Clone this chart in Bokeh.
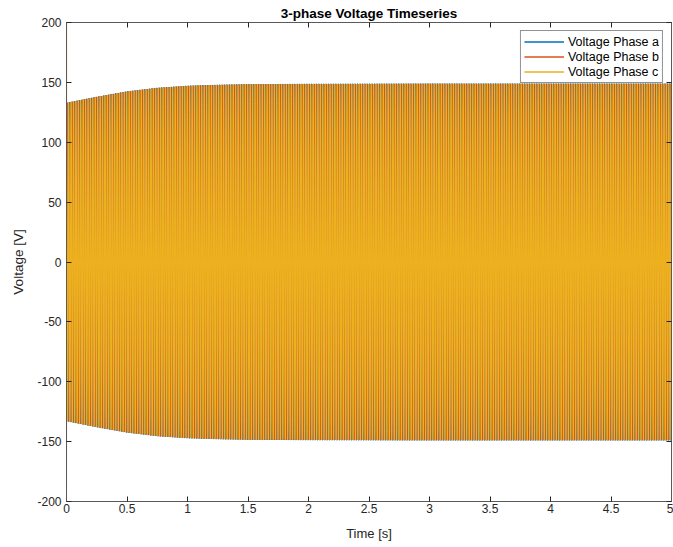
import numpy as np
from bokeh.plotting import figure
from bokeh.models import FixedTicker, LinearAxis, Range1d, Legend, LegendItem
from bokeh.embed import file_html
from bokeh.resources import INLINE

# ---- data ----
# amplitude envelope of the phase voltages (V) at given times (s)
env_t = [0.0, 0.25, 0.5, 0.75, 1.0, 1.25, 1.5, 2.0, 3.0, 4.0, 5.0]
env_amp = [133.0, 138.0, 142.5, 145.5, 147.2, 148.0, 148.5, 148.8, 149.0, 149.0, 149.0]
freq_hz = 50.0
sample_rate = 2000.0
phase_deg = {"a": 0.0, "b": -120.0, "c": 120.0}
start_value = {"a": 0.0, "b": -260.0, "c": 260.0}   # switching transient at t=0 (off scale)
series_names = ["Voltage Phase a", "Voltage Phase b", "Voltage Phase c"]
series_colors = ["#0072BD", "#D95319", "#EDB120"]
x_ticks = [0, 0.5, 1, 1.5, 2, 2.5, 3, 3.5, 4, 4.5, 5]
y_ticks = [-200, -150, -100, -50, 0, 50, 100, 150, 200]

t = np.arange(0.0, 5.0 + 1e-9, 1.0 / sample_rate)
env = np.interp(t, env_t, env_amp)
waves = {}
for k in ["a", "b", "c"]:
    w = env * np.sin(2 * np.pi * freq_hz * t + np.deg2rad(phase_deg[k]))
    w[0] = start_value[k]
    waves[k] = w

TXT = "#262626"
FONT = "Liberation Sans"

p = figure(width=673, height=547, output_backend="svg", toolbar_location=None,
           x_range=Range1d(0, 5), y_range=Range1d(-200, 200),
           min_border_left=66, min_border_right=2, min_border_top=22, min_border_bottom=46,
           background_fill_color="white", border_fill_color="white")
p.outline_line_color = None
p.xgrid.visible = False
p.ygrid.visible = False

line_widths = [1.0, 1.0, 1.2]
for k, col, lw in zip(["a", "b", "c"], series_colors, line_widths):
    p.line(t, waves[k], line_color=col, line_width=lw)

# legend keys (NaN data, drawn only in the legend)
items = []
for name, col in zip(series_names, series_colors):
    r = p.line(x=[np.nan, np.nan], y=[np.nan, np.nan], line_color=col, line_width=1.5)
    items.append(LegendItem(label=name, renderers=[r]))

p.title.text = "3-phase Voltage Timeseries"
p.title.align = "center"
p.title.text_font = FONT
p.title.text_font_size = "13.5px"
p.title.text_font_style = "bold"
p.title.text_color = "#000000"
p.title.standoff = 4

def style_axis(ax, ticks, labels=True):
    ax.ticker = FixedTicker(ticks=ticks)
    ax.axis_line_color = "#5a5a5a"
    ax.axis_line_width = 1
    ax.major_tick_line_color = TXT
    ax.major_tick_in = 5
    ax.major_tick_out = 0
    ax.minor_tick_line_color = None
    ax.major_label_text_font = FONT
    ax.major_label_text_color = TXT
    ax.axis_label_text_font = FONT
    ax.axis_label_text_color = TXT
    ax.axis_label_text_font_style = "normal"
    ax.major_label_text_font_size = "12px"
    if labels:
        ax.major_label_overrides = {v: f"{v:g}" for v in ticks}
    else:
        ax.major_label_overrides = {v: "" for v in ticks}
        ax.major_label_standoff = 0

style_axis(p.xaxis[0], x_ticks)
p.xaxis[0].axis_label = "Time [s]"
p.xaxis[0].axis_label_text_font_size = "13px"
p.xaxis[0].major_label_standoff = 2
p.xaxis[0].axis_label_standoff = 10

style_axis(p.yaxis[0], y_ticks)
p.yaxis[0].axis_label = "Voltage [V]"
p.yaxis[0].axis_label_text_font_size = "13.5px"
p.yaxis[0].major_label_standoff = 5
p.yaxis[0].axis_label_standoff = 8

top_ax = LinearAxis()
style_axis(top_ax, x_ticks, labels=False)
p.add_layout(top_ax, "above")
right_ax = LinearAxis()
style_axis(right_ax, y_ticks, labels=False)
p.add_layout(right_ax, "right")

lg = Legend(items=items, location="top_right")
lg.margin = 8
lg.padding = 3
lg.spacing = 0
lg.label_text_font = FONT
lg.label_text_font_size = "12.5px"
lg.label_text_color = "#000000"
lg.label_height = 15
lg.glyph_height = 15
lg.glyph_width = 40
lg.label_standoff = 4
lg.border_line_color = "#262626"
lg.border_line_width = 1
lg.background_fill_color = "white"
lg.background_fill_alpha = 1.0
p.add_layout(lg)

open("out.html", "w").write(file_html(p, INLINE))
